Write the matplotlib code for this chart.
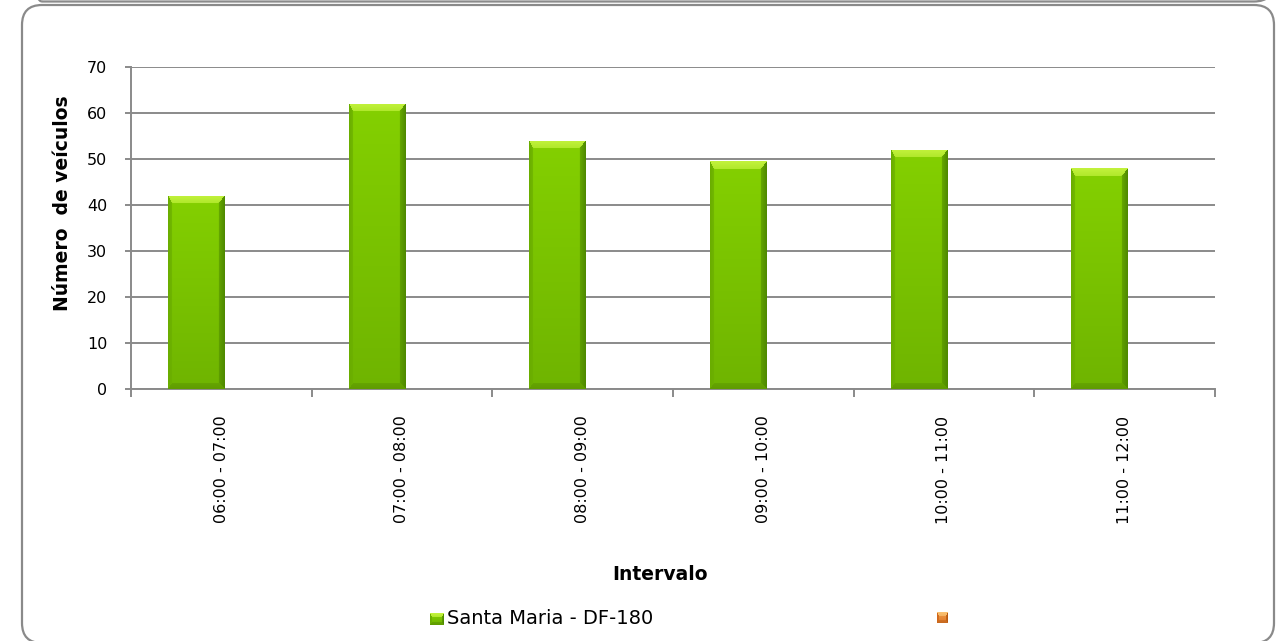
import numpy as np
import matplotlib
matplotlib.use("Agg")
import matplotlib.pyplot as plt
from matplotlib.patches import FancyBboxPatch
from matplotlib.colors import to_rgb
from matplotlib import transforms

# ---- data ----
intervals = ["06:00 - 07:00", "07:00 - 08:00", "08:00 - 09:00",
             "09:00 - 10:00", "10:00 - 11:00", "11:00 - 12:00"]
santa_maria = [42, 62, 54, 49.5, 52, 48]
series_names = ["Santa Maria - DF-180", ""]
y_ticks = [0, 10, 20, 30, 40, 50, 60, 70]
x_title = "Intervalo"
y_title = "Número  de veículos"

FONT = "DejaVu Sans"
GRAY = "#8a8a8a"

W, H, DPI = 1284, 641, 100
fig = plt.figure(figsize=(W / DPI, H / DPI), dpi=DPI)
fig.patch.set_facecolor("white")
px = transforms.Affine2D().scale(1 / DPI) + fig.dpi_scale_trans  # pixel coords, origin bottom-left


def bevel_image(w, h, pal, bt=8, bb=6, bl=4, br=6):
    """Excel-like bevelled block: light top, darker sides and bottom."""
    img = np.zeros((h, w, 3))
    top_c, left_c, right_c, bot_c, body_hi, body_lo = [np.array(to_rgb(c)) for c in pal]
    for i in range(h):
        frac = i / max(h - 1, 1)
        body = body_hi * (1 - frac) + body_lo * frac
        for j in range(w):
            d = {"t": i / bt, "b": (h - 1 - i) / bb, "l": j / bl, "r": (w - 1 - j) / br}
            k = min(d, key=d.get)
            if d[k] >= 1:
                img[i, j] = body
            elif k == "t":
                img[i, j] = top_c * (1 - 0.3 * d[k]) + body * 0.3 * d[k]
            elif k == "l":
                img[i, j] = left_c * (1 - 0.4 * d[k]) + body * 0.4 * d[k]
            elif k == "r":
                img[i, j] = right_c * (1 - 0.5 * d[k]) + body * 0.5 * d[k]
            else:
                img[i, j] = bot_c * (1 - 0.4 * d[k]) + body * 0.4 * d[k]
    return img


GREEN_PAL = ["#c2f23c", "#6aad00", "#4f8a00", "#5f9c00", "#84d000", "#6fb400"]
ORANGE_PAL = ["#f9c070", "#d0671a", "#b85a10", "#c86a20", "#ee9a45", "#e07b2c"]

# ---- axes ----
x0_px, x1_px, y0_px, y1_px = 131, 1215, 389, 67
ax = fig.add_axes([x0_px / W, 1 - y0_px / H, (x1_px - x0_px) / W, (y0_px - y1_px) / H])
n = len(intervals)
x = np.arange(n)
bar_w = 0.31
ax.set_xlim(-0.5, n - 0.5)
ax.set_ylim(0, 70)

# first of two clustered series (the second one is empty)
bars = ax.bar(x - bar_w / 2 + 0.015, santa_maria, width=bar_w, color="#80cc00",
              linewidth=0, zorder=3)

fig.canvas.draw()
for rect in bars:
    bx0, by0 = rect.get_x(), rect.get_y()
    bx1, by1 = bx0 + rect.get_width(), by0 + rect.get_height()
    (p0x, p0y), (p1x, p1y) = ax.transData.transform([(bx0, by0), (bx1, by1)])
    wpx, hpx = int(round(p1x - p0x)), int(round(p1y - p0y))
    img = bevel_image(wpx, hpx, GREEN_PAL)
    im = ax.imshow(img, extent=(bx0, bx1, by0, by1), aspect="auto",
                   interpolation="bilinear", zorder=4)
    im.set_clip_path(rect)
ax.set_xlim(-0.5, n - 0.5)
ax.set_ylim(0, 70)

# grid and spines
ax.set_yticks(y_ticks)
ax.yaxis.grid(True, color=GRAY, linewidth=1.4, zorder=1)
ax.set_axisbelow(True)
for s in ["top", "right"]:
    ax.spines[s].set_visible(False)
for s in ["left", "bottom"]:
    ax.spines[s].set_color(GRAY)
    ax.spines[s].set_linewidth(1.4)
    ax.spines[s].set_zorder(2)

ax.tick_params(axis="y", direction="out", length=4, width=1.4, color=GRAY,
               pad=13, labelsize=11.5, labelcolor="black")
ax.set_yticklabels([str(v) for v in y_ticks], fontfamily=FONT)

ax.set_xticks(x)
ax.set_xticklabels(intervals, rotation=90, fontsize=11.5, fontfamily=FONT, va="top")
ax.set_xticks(np.arange(-0.5, n, 1.0), minor=True)
ax.tick_params(axis="x", which="major", length=0, pad=19)
ax.tick_params(axis="x", which="minor", direction="out", length=6, width=1.4, color=GRAY)

# axis titles
fig.text(660 / W, 1 - 575 / H, x_title, ha="center", va="center",
         fontsize=13.5, fontweight="bold", fontfamily=FONT)
fig.text(63 / W, 1 - 203 / H, y_title, ha="center", va="center", rotation=90,
         fontsize=13.5, fontweight="bold", fontfamily=FONT)

# legend
fig.figimage(bevel_image(14, 12, GREEN_PAL, bt=4, bb=3, bl=2, br=2),
             xo=430, yo=H - 625, origin="upper", zorder=5)
fig.text(447 / W, 1 - 618 / H, series_names[0], ha="left", va="center",
         fontsize=14, fontfamily=FONT)
fig.figimage(bevel_image(11, 11, ORANGE_PAL, bt=4, bb=3, bl=2, br=2),
             xo=937, yo=H - 623, origin="upper", zorder=5)
fig.text(952 / W, 1 - 618 / H, series_names[1], ha="left", va="center",
         fontsize=14, fontfamily=FONT)

# chart frames (rounded borders)
frame = FancyBboxPatch((22, -2), 1274 - 22, (H - 5) + 2,
                       boxstyle="round,pad=0,rounding_size=20",
                       transform=px, facecolor="none", edgecolor=GRAY,
                       linewidth=1.6, zorder=10)
fig.add_artist(frame)
prev_frame = FancyBboxPatch((22, H - 1.5), 1274 - 22, 300,
                            boxstyle="round,pad=0,rounding_size=20",
                            transform=px, facecolor="none", edgecolor=GRAY,
                            linewidth=1.6, zorder=10)
fig.add_artist(prev_frame)

fig.savefig("out.png", dpi=DPI, facecolor="white")
